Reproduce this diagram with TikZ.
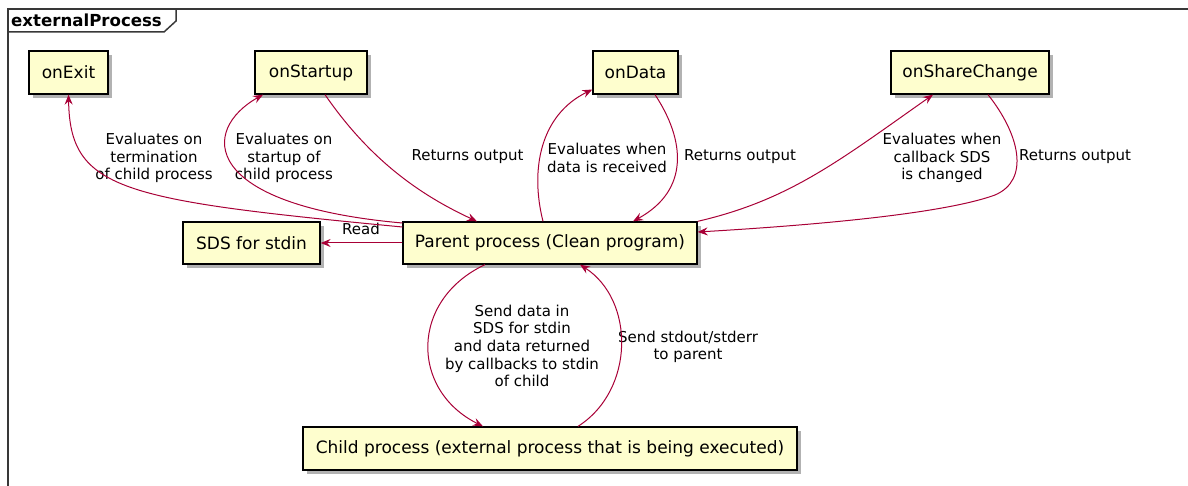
\documentclass[tikz,border=0pt]{standalone}
\usepackage{fontspec}
\setmainfont{DejaVu Sans}
\usepackage{tikz}
\usepackage{xcolor}
\usetikzlibrary{arrows.meta, shadows}

\definecolor{boxfill}{HTML}{FEFECE}
\definecolor{arrowred}{HTML}{A80036}
\definecolor{framegray}{HTML}{383838}

\begin{document}
\begin{tikzpicture}[x=1pt, y=-1pt,
    box/.style={draw=black, line width=1.3pt, fill=boxfill, minimum height=43pt, inner sep=0pt,
        font=\fontsize{17}{20}\selectfont,
        drop shadow={shadow xshift=4pt, shadow yshift=-4pt, opacity=0.3, fill=black}},
    lbl/.style={font=\fontsize{15}{17.7}\selectfont, align=center, inner sep=0pt},
    flow/.style={draw=arrowred, line width=1pt, -{Stealth[length=10pt, width=8pt, inset=3.5pt]}},
    frame/.style={draw=framegray, line width=1.5pt}]
    \useasboundingbox (0,0) rectangle (1188,486);

    % Frame
    \draw[frame] (8,492) -- (8,9) -- (1194,9);
    \draw[frame] (8,32) -- (164,32) -- (176,21) -- (176,9);
    \node[anchor=west, inner sep=0pt, font=\fontsize{16.6}{19}\selectfont\bfseries] (tab) at (11,20.5) {externalProcess};

    % Nodes
    \node[box, minimum width=79pt] (onExit) at (68.5,72.5) {onExit};
    \node[box, minimum width=112pt] (onStartup) at (311,72.5) {onStartup};
    \node[box, minimum width=85pt] (onData) at (635.5,72.5) {onData};
    \node[box, minimum width=158pt] (onShareChange) at (970,72.5) {onShareChange};
    \node[box, minimum width=137pt, minimum height=42pt] (sds) at (251.5,243) {SDS for stdin};
    \node[box, minimum width=294pt, minimum height=42pt] (parent) at (550,243) {Parent process (Clean program)};
    \node[box, minimum width=494pt] (child) at (550,448.5) {Child process (external process that is being executed)};

    % Labels
    \node[lbl] (lExit) at (154,158) {Evaluates on\\termination\\of child process};
    \node[lbl] (lStartup) at (284,158) {Evaluates on\\startup of\\child process};
    \node[lbl] (lRetStartup) at (467.5,157) {Returns output};
    \node[lbl] (lData) at (607,158) {Evaluates when\\data is received};
    \node[lbl] (lRetData) at (740,157) {Returns output};
    \node[lbl] (lShare) at (942,158) {Evaluates when\\callback SDS\\is changed};
    \node[lbl] (lRetShare) at (1075,157) {Returns output};
    \node[lbl] (lRead) at (361,229) {Read};
    \node[lbl] (lSend) at (522,346) {Send data in\\SDS for stdin\\and data returned\\by callbacks to stdin\\of child};
    \node[lbl] (lOut) at (688,347) {Send stdout/stderr\\to parent};

    % Paths
    \draw[flow] ([yshift=16pt]parent.west) .. controls (120,200) and (70,190) .. (onExit.south);
    \draw[flow] ([yshift=20pt]parent.west) .. controls (200,205) and (200,130) .. ([xshift=-48pt]onStartup.south);
    \draw[flow] ([xshift=14pt]onStartup.south) .. controls (370,160) and (420,195) .. ([xshift=-73pt]parent.north);
    \draw[flow] ([xshift=-7pt]parent.north) .. controls (530,170) and (540,115) .. ([yshift=-17pt]onData.west);
    \draw[flow] ([xshift=19.5pt]onData.south) .. controls (685,140) and (690,190) .. ([xshift=83pt]parent.north);
    \draw[flow] (parent.north east) .. controls (790,200) and (840,160) .. ([xshift=-37pt]onShareChange.south);
    \draw[flow] ([xshift=18pt]onShareChange.south) .. controls (1020,135) and (1030,180) .. (995,195)
        .. controls (940,215) and (800,226) .. ([yshift=11pt]parent.east);
    \draw[flow] (parent.west) -- (sds.east);
    \draw[flow] ([xshift=-65pt]parent.south) .. controls (410,300) and (410,390) .. ([xshift=-67pt]child.north);
    \draw[flow] ([xshift=28pt]child.north) .. controls (635,390) and (635,300) .. ([xshift=30pt]parent.south);
\end{tikzpicture}
\end{document}
